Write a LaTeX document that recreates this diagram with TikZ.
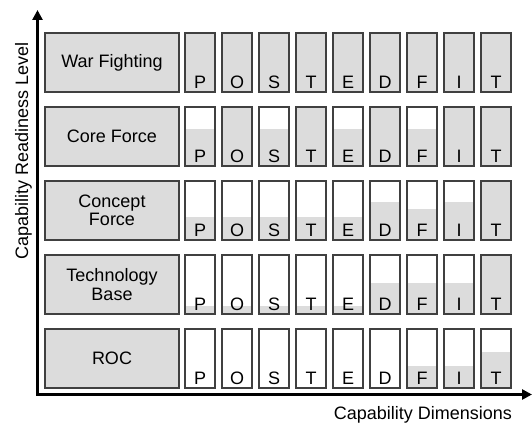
\documentclass[tikz,border=0pt]{standalone}
\usepackage{fontspec}
\setmainfont{Liberation Sans}
\usetikzlibrary{arrows.meta,positioning,calc}

\definecolor{boxfill}{HTML}{DCDCDC}
\definecolor{boxline}{HTML}{404040}

\begin{document}
\begin{tikzpicture}[x=1pt, y=-1pt,
  level/.style={draw=boxline, fill=boxfill, line width=1.2pt, minimum width=134pt, minimum height=59pt, align=center, font=\fontsize{18}{18.5}\selectfont},
  bar/.style={draw=boxline, line width=1.2pt, minimum width=30pt, minimum height=59pt, inner sep=0pt},
  letter/.style={anchor=base, inner sep=0pt, font=\fontsize{18}{20}\selectfont},
  axis/.style={line width=3.4pt, arrows={Triangle[length=10pt,width=10pt]-Triangle[length=10pt,width=10pt]}}]
  \useasboundingbox (0,0) rectangle (532,425);

  % readiness levels
  \node[level] (wf) at (112,62.5) {War Fighting};
  \node[level] (cf) at (112,136.5) {Core Force};
  \node[level] (kf) at (112,210.5) {Concept\\Force};
  \node[level] (tb) at (112,284.5) {Technology\\Base};
  \node[level] (roc) at (112,358.5) {ROC};

  % capability bars, letter/fill level
  \foreach \row/\yc/\fills in {
      wf/62.5/{P/1,O/1,S/1,T/1,E/1,D/1,F/1,I/1,T/1},
      cf/136.5/{P/.63,O/1,S/.63,T/1,E/.63,D/1,F/.63,I/1,T/1},
      kf/210.5/{P/.39,O/.39,S/.39,T/.39,E/.39,D/.64,F/.53,I/.64,T/1},
      tb/284.5/{P/.13,O/.13,S/.13,T/.13,E/.13,D/.52,F/.52,I/.52,T/1},
      roc/358.5/{P/0,O/0,S/0,T/0,E/0,D/0,F/.37,I/.37,T/.61}}{
    \foreach \ltr/\f [count=\i] in \fills {
      \node[bar, path picture={
          \fill[boxfill] (path picture bounding box.south west) rectangle
            ($(path picture bounding box.south east)!\f!(path picture bounding box.north east)$);}]
        (\row-\i) at ({200+37*(\i-1)},\yc) {};
      \node[letter] (\row-l\i) at ([yshift=4pt]\row-\i.south) {\ltr};
    }
  }

  % axes
  \coordinate (ytip) at (37.5,10);
  \coordinate (xtip) at (532,394.5);
  \draw[axis] (ytip) |- (xtip);
  \node[rotate=90, anchor=base, font=\fontsize{18}{20}\selectfont] (ylab) at (28,151) {Capability Readiness Level};
  \node[anchor=base, font=\fontsize{18}{20}\selectfont] (xlab) at (423,419) {Capability Dimensions};
\end{tikzpicture}
\end{document}
